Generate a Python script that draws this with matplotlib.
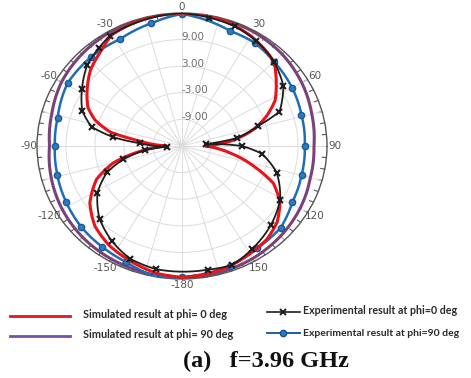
import numpy as np
import matplotlib
matplotlib.use("Agg")
from matplotlib import pyplot as plt
from matplotlib.lines import Line2D
from matplotlib.transforms import offset_copy

# simulated, phi = 0 deg
ang_sim0 = [-180, -170, -157, -146, -135, -124, -113, -105, -98, -90, -82, -78, -72, -66, -57, -48, -38, -30, -20, -10,
            0, 10, 20, 30, 40, 45, 54, 62, 69, 76, 84, 90, 99, 108, 114, 122, 131, 140, 149, 160, 170, 180]
sim0 = [14.6, 14.2, 13.0, 12.0, 10.5, 8.0, 4.2, -0.3, -6.2, -11.8, -5.5, 0.2, 3.9, 6.3, 8.4, 10.5, 12.2, 14.0, 14.5, 14.8,
        15.0, 14.8, 14.4, 13.6, 12.5, 11.9, 9.1, 6.8, 3.7, 0.2, -5.0, -10.2, -4.9, 1.2, 5.7, 8.9, 11.1, 12.4, 13.0, 13.8, 14.3, 14.6]

# simulated, phi = 90 deg
ang_sim90 = [-180, -165, -150, -135, -120, -105, -90, -75, -60, -45, -30, -15, 0,
             15, 30, 45, 60, 75, 90, 105, 120, 135, 150, 165, 180]
sim90 = [14.7, 14.6, 14.4, 14.1, 13.6, 13.0, 12.4, 12.9, 13.8, 14.3, 14.7, 14.9, 15.0,
         14.9, 14.7, 14.3, 13.6, 12.8, 12.3, 12.5, 13.2, 13.8, 14.3, 14.6, 14.7]

# measured, phi = 0 deg
ang_exp0 = [-169, -157, -146, -134, -121, -111, -104, -97, -93, -86, -82, -77, -69, -58, -47, -38, -31, 0,
            11, 22, 33, 45, 57, 69, 74, 81, 85, 90, 96, 107, 121, 134, 148, 159, 169]
exp0 = [13.3, 12.6, 10.9, 8.7, 5.4, 1.6, -2.5, -7.3, -11.8, -6.3, -0.6, 4.2, 7.1, 9.4, 11.8, 13.0, 14.0, 15.0,
        14.5, 14.1, 13.3, 11.9, 10.0, 6.6, 1.3, -3.4, -10.0, -2.6, 1.6, 5.5, 8.7, 10.6, 12.4, 13.8, 13.4]

# measured, phi = 90 deg
ang_exp90 = [-169, -156, -144, -131, -118, -104, -90, -76, -59, -43, -28, -13, 0,
             21, 33, 45, 60, 74, 90, 105, 119, 132, 146, 160, 180]
exp90 = [14.9, 13.6, 13.1, 12.7, 12.1, 11.6, 11.3, 11.5, 12.6, 12.5, 12.3, 13.4, 14.8,
         12.8, 12.7, 11.9, 11.3, 10.7, 10.4, 10.6, 11.1, 12.5, 12.8, 13.8, 14.6]

r_ticks = [-9, -3, 3, 9]
r_labels = ["-9.00", "-3.00", "3.00", "9.00"]
theta_labels = [0, 30, 60, 90, 120, 150, -180, -150, -120, -90, -60, -30]

RED = "#e8141b"
PURPLE = "#7a4276"
BLUE = "#1f6db3"
BLACK = "#1e1e1e"


def closed(ang, val):
    a = np.deg2rad(np.append(ang, ang[0] + 360))
    v = np.append(val, val[0])
    return a, v


def trace(ax, ang, val, marker_kw=None, skip=(), **kw):
    t, v = closed(ang, val)
    ln, = ax.plot(t, v, **kw)
    # let the polar transform bend the segments between samples
    ln.get_path()._interpolation_steps = 24
    if marker_kw:
        keep = [i for i, a in enumerate(ang) if a not in skip]
        ax.plot(t[keep], v[keep], ls="none", zorder=kw.get("zorder", 2) + 0.5, **marker_kw)


fig = plt.figure(figsize=(4.71, 3.78), dpi=100)
ax = fig.add_axes([37 / 471, 1 - 279 / 378, 290 / 471, 266 / 378], projection="polar")
ax.set_aspect("auto")
ax.set_theta_zero_location("N")
ax.set_theta_direction(-1)
ax.set_rlim(-15, 15)

ax.set_xticks(np.deg2rad(np.arange(0, 360, 15)))
ax.set_xticklabels([])
ax.set_yticks(r_ticks)
ax.set_yticklabels([])
ax.tick_params(axis="both", length=0)
ax.grid(True, color="#dcdcdc", lw=0.7)
ax.spines["polar"].set_color("#555555")
ax.spines["polar"].set_linewidth(1.0)

# small ticks around the rim
for a in range(0, 360, 5):
    t = np.deg2rad(a)
    ax.plot([t, t], [14.15, 15], color="#555555", lw=0.8, zorder=1, clip_on=False)

for a in theta_labels:
    rr = 16.4 if a in (0, -180) else 16.7
    ax.text(np.deg2rad(a), rr, str(a), ha="center", va="center",
            fontsize=7.5, color="#555555", clip_on=False)

lab_tr = offset_copy(ax.transData, fig=fig, x=-1, y=2.5, units="dots")
for r, lab in zip(r_ticks, r_labels):
    ax.text(0, r, lab, transform=lab_tr, ha="left", va="center",
            fontsize=7.5, color="#6e6e6e")

trace(ax, ang_sim90, sim90, color=PURPLE, lw=2.2, zorder=2)
trace(ax, ang_exp90, exp90, color=BLUE, lw=1.8, zorder=3,
      marker_kw=dict(marker="o", ms=4.5, mfc="#2a7cc4", mec="#1a5a95"))
trace(ax, ang_sim0, sim0, color=RED, lw=2.2, zorder=4)
trace(ax, ang_exp0, exp0, color=BLACK, lw=1.3, zorder=5, skip=(0,),
      marker_kw=dict(marker="x", ms=4.5, mew=1.5, color=BLACK))

# legend under the chart
W, H = 471.0, 378.0


def fx(x):
    return x / W


def fy(y):
    return 1 - y / H


fig.add_artist(Line2D([fx(10), fx(70)], [fy(315.5), fy(315.5)], color=RED, lw=2.0, transform=fig.transFigure))
fig.add_artist(Line2D([fx(10), fx(70)], [fy(335.5), fy(335.5)], color="#7552a8", lw=2.0, transform=fig.transFigure))
fig.add_artist(Line2D([fx(267), fx(283), fx(300)], [fy(311.5)] * 3, color=BLACK, lw=1.2,
                      marker="x", ms=4, mew=1.4, markevery=[1], transform=fig.transFigure))
fig.add_artist(Line2D([fx(267), fx(283), fx(300)], [fy(333)] * 3, color="#1f5ea3", lw=1.4,
                      marker="o", ms=4.5, mfc="#2a7cc4", mec="#1a4f8a", markevery=[1], transform=fig.transFigure))

leg_font = dict(family="Lato", fontweight="bold", fontsize=7.8, color="#2a2a2a", va="center", ha="left")
fig.text(fx(83), fy(314), "Simulated result at phi= 0 deg", **leg_font)
fig.text(fx(83), fy(334), "Simulated result at phi= 90 deg", **leg_font)
leg_font["fontsize"] = 7.7
fig.text(fx(303), fy(310.5), "Experimental result at phi=0 deg", **leg_font)
leg_font["fontsize"] = 7.5
fig.text(fx(303), fy(333), "Experimental result at phi=90 deg", **leg_font)

fig.text(fx(266), fy(361), "(a)   f=3.96 GHz", family="Liberation Serif", fontweight="bold",
         fontsize=17.5, ha="center", va="center", color="#111111")

fig.savefig("out.png", dpi=100)
